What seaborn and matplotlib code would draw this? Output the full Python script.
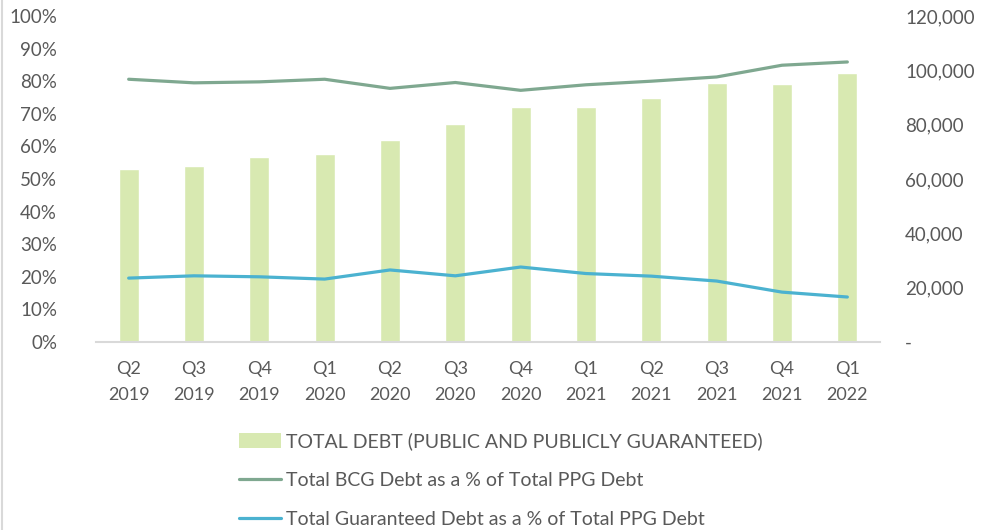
import pandas as pd
import seaborn as sns
import matplotlib.pyplot as plt
from matplotlib.lines import Line2D
from matplotlib.patches import Patch

quarters = ['Q2\n2019', 'Q3\n2019', 'Q4\n2019', 'Q1\n2020', 'Q2\n2020', 'Q3\n2020',
            'Q4\n2020', 'Q1\n2021', 'Q2\n2021', 'Q3\n2021', 'Q4\n2021', 'Q1\n2022']
total_debt = [63600, 64700, 68000, 69100, 74500, 80200,
              86600, 86600, 89900, 95500, 94800, 99200]
bcg_share = [0.806, 0.795, 0.798, 0.806, 0.778, 0.796,
             0.772, 0.789, 0.800, 0.813, 0.849, 0.859]
guaranteed_share = [0.196, 0.203, 0.200, 0.193, 0.221, 0.203,
                    0.230, 0.210, 0.202, 0.187, 0.153, 0.138]

bar_label = 'TOTAL DEBT (PUBLIC AND PUBLICLY GUARANTEED)'
bcg_label = 'Total BCG Debt as a % of Total PPG Debt'
gua_label = 'Total Guaranteed Debt as a % of Total PPG Debt'

bar_color = '#d8e9b1'
bcg_color = '#7fa890'
gua_color = '#4bb2d0'
text_color = '#595959'

sns.set_style('white')
plt.rcParams['font.family'] = ['Lato', 'DejaVu Sans']

df = pd.DataFrame({'quarter': quarters, 'debt': total_debt,
                   'bcg': bcg_share, 'gua': guaranteed_share})

fig = plt.figure(figsize=(9.91, 5.30), dpi=100)
ax = fig.add_axes([96 / 991, 1 - 342 / 530, 784 / 991, 326 / 530])
ax2 = ax.twinx()

# bars on the primary axes (drawn below the lines), ticks moved to the right
sns.barplot(data=df, x='quarter', y='debt', color=bar_color, width=0.31,
            saturation=1, ax=ax)
ax.set_ylim(0, 120000)
ax.set_yticks(range(0, 120001, 20000))
ax.set_yticklabels(['-'] + [f'{v:,}' for v in range(20000, 120001, 20000)])

# lines on the twin axes, ticks moved to the left
sns.lineplot(data=df, x='quarter', y='bcg', color=bcg_color, linewidth=2.3,
             sort=False, ax=ax2)
sns.lineplot(data=df, x='quarter', y='gua', color=gua_color, linewidth=2.3,
             sort=False, ax=ax2)
ax2.set_ylim(0, 1)
ax2.set_yticks([i / 10 for i in range(11)])
ax2.set_yticklabels([f'{i * 10}%' for i in range(11)])

ax.yaxis.tick_right()
ax2.yaxis.tick_left()

ax.set_xlim(-0.5, 11.5)
for a in (ax, ax2):
    a.set_xlabel('')
    a.set_ylabel('')
    for s in a.spines.values():
        s.set_visible(False)
    a.tick_params(length=0, labelsize=13.5, colors=text_color)
ax.spines['bottom'].set_visible(True)
ax.spines['bottom'].set_color('#d9d9d9')
ax.spines['bottom'].set_linewidth(1.5)
ax.tick_params(axis='x', pad=14, labelsize=13)
ax.tick_params(axis='y', pad=18)
ax2.tick_params(axis='y', pad=28)
for lbl in ax.get_xticklabels():
    lbl.set_linespacing(1.7)

handles = [Patch(facecolor=bar_color, edgecolor='none'),
           Line2D([0], [0], color=bcg_color, linewidth=2.3),
           Line2D([0], [0], color=gua_color, linewidth=2.3)]
fig.legend(handles, [bar_label, bcg_label, gua_label], loc='upper left',
           bbox_to_anchor=(221 / 991, 1 - 415 / 530), frameon=False,
           fontsize=14, labelcolor=text_color, labelspacing=1.12,
           handlelength=2.2, handleheight=0.8, handletextpad=0.25)

fig.add_artist(Line2D([0.002, 0.002], [0, 1], color='#d9d9d9', linewidth=1.5,
                      transform=fig.transFigure))

plt.savefig('out.png', dpi=100)
